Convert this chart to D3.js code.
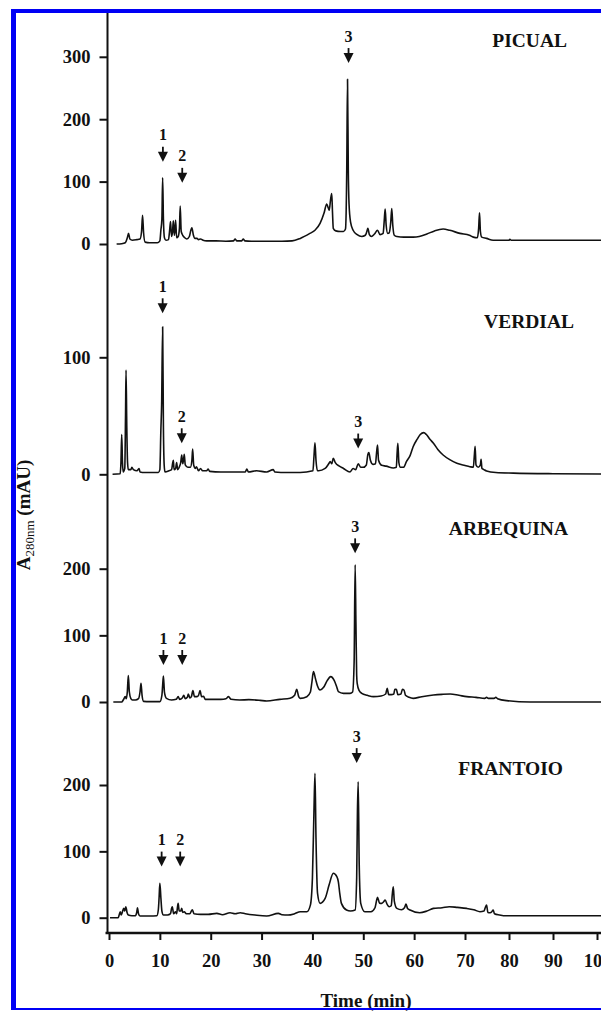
<!DOCTYPE html>
<html>
<head>
<meta charset="utf-8">
<script src="https://cdn.jsdelivr.net/npm/d3@7"></script>
<style>
  html, body { margin: 0; padding: 0; background: #fff; }
  svg { display: block; }
  text { font-family: "Liberation Serif", "Times New Roman", serif; }
</style>
</head>
<body>
<svg id="chart" width="601" height="1012"></svg>
<script>
// ---------------- DATA ----------------
const panelNames = ["PICUAL", "VERDIAL", "ARBEQUINA", "FRANTOIO"];
const xTickValues = [0, 10, 20, 30, 40, 50, 60, 70, 80, 90, 100];

const picualTicks = [0, 100, 200, 300];
const verdialTicks = [0, 100];
const arbequinaTicks = [0, 100, 200];
const frantoioTicks = [0, 100, 200];

// chromatogram traces: [time (min), absorbance (mAU)]
const picual = [[1.5,0],[2.5,0.5],[3.2,2],[3.6,10],[3.85,17],[4.1,8],[4.6,6],[5.5,7],[6.1,8],[6.4,20],[6.6,46],[6.8,18],[7.1,3],[8,2],[9.5,2],[10.0,5],[10.2,22],[10.4,40],[10.55,106],[10.7,40],[10.9,10],[11.2,6],[11.7,7],[11.9,20],[12.1,36],[12.3,12],[12.5,20],[12.65,37],[12.85,14],[13.0,25],[13.1,38],[13.3,10],[13.6,12],[13.85,25],[14.0,61],[14.2,20],[14.5,14],[14.9,10],[15.3,8],[15.8,12],[16.1,22],[16.3,26],[16.6,14],[16.9,9],[17.3,9],[17.6,7],[18.0,8],[18.5,6],[19.2,5],[21,5],[23,4.5],[24.5,5],[24.8,8],[25.1,5],[26.1,5],[26.4,8],[26.7,5],[28,4.5],[31,4.5],[34,4.5],[36,5],[37.6,9],[39.5,17],[40.5,22],[41.5,33],[42.3,50],[42.8,64],[43.1,58],[43.3,54],[43.55,70],[43.8,81],[43.95,50],[44.1,25],[44.6,21],[45.5,20],[46.1,20],[46.5,24],[46.75,120],[46.9,264],[47.05,120],[47.2,64],[47.5,35],[48.0,22],[48.8,15],[49.7,12],[50.4,14],[50.7,20],[50.9,25],[51.2,15],[51.6,12],[52.2,16],[52.8,22],[53.3,15],[53.9,17],[54.1,35],[54.3,56],[54.5,30],[54.8,17],[55.1,18],[55.4,35],[55.6,57],[55.8,30],[56.1,14],[56.6,12],[58,11],[59.8,11],[61,12],[62.5,16],[64,21],[65.7,24],[67,22],[69,17],[71,14],[71.9,11],[72.8,10],[73.1,25],[73.3,50],[73.5,20],[73.8,11],[74.9,9],[76.4,6],[80,6],[80.2,7.5],[80.5,6],[90,6],[101,6]];

const verdial = [[0.7,0],[2.2,0.5],[2.35,10],[2.5,34],[2.65,10],[2.8,2],[3.1,5],[3.25,50],[3.35,89],[3.5,40],[3.65,10],[3.8,4],[4.3,4],[4.5,6],[4.8,4],[5.5,3],[5.9,5],[6.1,2],[7,1.5],[9.7,1.5],[10.0,4],[10.2,38],[10.35,60],[10.55,126],[10.7,40],[10.85,8],[11.0,2],[11.8,3],[12.3,4],[12.5,9],[12.65,12],[12.8,4],[13.1,5],[13.3,10],[13.5,4],[13.9,7],[14.1,10],[14.3,16.5],[14.5,9],[14.65,12],[14.8,17],[15.0,8],[15.5,6],[16.0,6],[16.3,12],[16.45,21.5],[16.65,8],[17.0,5],[17.2,6.5],[17.6,3],[18.0,5],[18.4,3],[19.2,3],[19.5,4.5],[19.8,2.5],[22,2],[25,2],[26.8,2],[27.1,4.5],[27.4,2],[29,3],[31,2],[32.3,4],[32.6,2],[35,1.5],[37.6,1.5],[40.1,3],[40.3,15],[40.5,27],[40.7,12],[41.0,3],[41.2,3],[42.5,5],[43.2,9],[43.5,11],[43.8,9],[44.1,13.7],[44.5,10],[45.3,7],[46.1,5],[47.4,2],[48.0,5],[48.5,4],[49.0,9],[49.5,6],[50.0,6],[50.6,8],[50.9,17],[51.1,18.5],[51.4,12],[51.9,8.5],[52.4,9],[52.6,18],[52.8,25],[53.0,12],[53.6,7.7],[54.5,7],[55.9,5.4],[56.5,6],[56.65,18],[56.8,26.5],[57.0,10],[57.3,6],[57.9,6],[58.5,11],[59.2,16],[59.8,23.6],[60.6,30],[61.2,34],[61.9,35.6],[62.4,34],[63.1,30],[63.8,26.5],[64.7,21],[65.7,16.5],[67,12.5],[68.4,9.4],[70,7.5],[71.1,6.5],[71.9,6],[72.1,15],[72.3,24],[72.5,8],[73.0,6],[73.5,8],[73.65,12.8],[73.85,5],[74.3,4],[74.9,2.8],[77,1.5],[81,1],[90,0.5],[101,0.3]];

const arbequina = [[0.85,0],[2.5,0],[2.8,3],[3.2,8],[3.4,5],[3.6,15],[3.8,39.5],[4.0,15],[4.3,5],[4.6,3],[5.2,3],[5.8,5],[6.1,15],[6.3,28],[6.5,10],[6.8,1],[8,0.5],[10,0.5],[10.4,10],[10.55,25],[10.7,39],[10.9,15],[11.3,5.5],[12.3,3],[13.2,4],[13.6,8],[13.9,4],[14.4,6],[14.7,10],[15.0,5],[15.4,7],[15.6,12],[15.9,6],[16.2,8],[16.5,17],[16.8,8],[17.3,8],[17.6,10],[17.9,17],[18.2,8],[18.6,8.5],[18.9,4],[20,4],[22,4],[23.0,5],[23.5,8],[24,4],[25.7,3],[27.5,3.5],[29.7,2.5],[31,1.5],[33.6,4],[35.6,5.5],[36.5,10],[36.9,19],[37.3,8],[37.6,5.5],[38.9,8],[39.6,15],[39.9,30],[40.2,45.5],[40.6,35],[41.0,24],[41.5,18],[42.2,22],[42.9,32],[43.6,38],[44.3,32],[44.8,22],[45.1,15.5],[46.1,13],[47.4,13],[47.9,15],[48.2,60],[48.4,206],[48.55,120],[48.7,40],[48.8,28],[49.2,17],[49.7,13],[50.8,10],[52,8],[53.5,9],[54.4,12],[54.7,20.5],[55.0,11],[55.5,11],[56.0,12],[56.2,19],[56.5,19],[56.8,11],[57.4,12],[57.7,19],[58.0,18],[58.3,10],[59.0,7],[59.8,5.5],[61.5,8],[63.8,10.5],[65.5,11.5],[67.1,12],[68.8,10],[70.4,8],[72.5,7],[74.5,5.5],[74.9,7],[75.3,5.5],[76.6,5.5],[77.0,7],[77.4,5],[79.5,2],[84.8,0],[101,0]];

const frantoio = [[0.2,0],[1.8,0],[2.0,4],[2.2,9],[2.4,4],[2.6,8],[2.9,14],[3.1,10],[3.3,16.6],[3.55,8],[3.8,4],[4.5,3],[5.2,3],[5.45,8],[5.6,15],[5.8,6],[6.1,2.5],[8,2.5],[9.4,3],[9.7,12],[9.85,30],[10.0,52],[10.2,30],[10.4,10],[10.7,4],[11.5,4],[12.1,6],[12.3,14],[12.45,16.6],[12.7,6],[13.1,9],[13.3,6],[13.45,15],[13.6,21.6],[13.8,10],[14.1,10],[14.3,14],[14.5,8],[14.8,9],[15.2,6],[15.9,6],[16.2,10],[16.4,12],[16.7,6],[18,5],[19.5,5],[21.2,6.5],[22.3,4.5],[23.8,7.5],[24.8,6],[25.8,7.5],[26.8,6],[28.7,4],[31,2.5],[33.3,6.5],[34,4.5],[35.2,4],[36.5,6],[37.6,9],[38.9,9],[39.6,19],[40.0,60],[40.3,160],[40.5,217.6],[40.7,120],[41.0,37],[41.5,21.6],[42.5,29],[43.3,50],[44.1,67],[44.8,62],[45.1,54],[45.4,35],[45.7,21.6],[46.7,11.6],[47.5,10],[48.4,11.6],[48.7,60],[48.85,160],[49.0,205],[49.2,80],[49.5,21.6],[50.3,9],[51.5,9],[52.3,15],[52.8,30.7],[53.2,22],[53.6,21.6],[54.0,24],[54.3,26.6],[54.7,20],[55.1,16.6],[55.5,18],[55.7,35],[55.9,46.7],[56.1,25],[56.6,14],[57.5,12],[58.1,15],[58.4,20.6],[58.7,14],[59.2,11.6],[61.1,7.5],[62.5,10],[63.8,14],[65.5,15],[66.9,16.6],[68.5,15.5],[70.4,14],[72,12],[73.4,9],[74.3,10],[74.6,15],[74.9,19],[75.2,8],[75.7,7.5],[76.1,9],[76.4,11.6],[76.7,6],[77.9,4],[78.7,3],[101,3]];

// peak markers (arrows): label, retention time, arrow tip level (mAU)
const markerLabels = ["1", "2", "3"];
const picualMarkTimes = [10.6, 14.4, 47.1];
const picualMarkTips = [132, 98, 290];
const verdialMarkTimes = [10.55, 14.3, 49.0];
const verdialMarkTips = [137.6, 26.5, 22];
const arbequinaMarkTimes = [10.7, 14.4, 48.4];
const arbequinaMarkTips = [55.5, 55.5, 223];
const frantoioMarkTimes = [10.35, 14.0, 48.7];
const frantoioMarkTips = [77, 77, 233];

// ---------------- LAYOUT ----------------
const W = 601, H = 1012;
const axisX = 107.5, xAxisY = 933;
const layout = [
  { y0: 244,   yTop: 56.8,  max: 300, labelX: 567, labelY: 46.5 },
  { y0: 474.3, yTop: 357.3, max: 100, labelX: 574, labelY: 327.5 },
  { y0: 702,   yTop: 568.7, max: 200, labelX: 568, labelY: 535 },
  { y0: 917.7, yTop: 785,   max: 200, labelX: 563, labelY: 775 }
];
const panels = [
  { name: panelNames[0], data: picual,    ticks: picualTicks,    times: picualMarkTimes,    tips: picualMarkTips },
  { name: panelNames[1], data: verdial,   ticks: verdialTicks,   times: verdialMarkTimes,   tips: verdialMarkTips },
  { name: panelNames[2], data: arbequina, ticks: arbequinaTicks, times: arbequinaMarkTimes, tips: arbequinaMarkTips },
  { name: panelNames[3], data: frantoio,  ticks: frantoioTicks,  times: frantoioMarkTimes,  tips: frantoioMarkTips }
];

const svg = d3.select("#chart");
svg.append("rect").attr("width", W).attr("height", H).attr("fill", "#fff");

// x scale (the printed axis is slightly compressed beyond 70 min)
const x = d3.scaleLinear().domain([0, 70, 100]).range([109, 465, 597]);

panels.forEach((p, i) => {
  const L = layout[i];
  const y = d3.scaleLinear().domain([0, L.max]).range([L.y0, L.yTop]);

  // y axis ticks
  const ax = svg.append("g")
    .attr("transform", `translate(${axisX},0)`)
    .call(d3.axisLeft(y).tickValues(p.ticks).tickFormat(d3.format("d")).tickSize(8).tickPadding(9));
  ax.select(".domain").remove();
  ax.selectAll(".tick line").attr("stroke", "#111").attr("stroke-width", 2);
  ax.selectAll(".tick text")
    .attr("fill", "#111")
    .style("font-family", '"Liberation Serif", serif')
    .style("font-weight", "bold")
    .style("font-size", "18.5px");

  // trace
  const line = d3.line()
    .x(d => x(d[0]))
    .y(d => y(d[1]))
    .curve(d3.curveMonotoneX);
  svg.append("path")
    .datum(p.data)
    .attr("d", line)
    .attr("fill", "none")
    .attr("stroke", "#111")
    .attr("stroke-width", 1.6)
    .attr("stroke-linejoin", "round");

  // peak markers
  const mk = svg.append("g");
  markerLabels.forEach((lab, j) => {
    const mx = x(p.times[j]);
    const tip = y(p.tips[j]);
    mk.append("line")
      .attr("x1", mx).attr("x2", mx)
      .attr("y1", tip - 15).attr("y2", tip - 8)
      .attr("stroke", "#111").attr("stroke-width", 1.8);
    mk.append("path")
      .attr("d", `M${mx - 5},${tip - 10}L${mx + 5},${tip - 10}L${mx},${tip}Z`)
      .attr("fill", "#111");
    mk.append("text")
      .attr("x", mx).attr("y", tip - 21.5)
      .attr("text-anchor", "middle")
      .attr("fill", "#111")
      .style("font-weight", "bold")
      .style("font-size", "16px")
      .text(lab);
  });

  // panel name
  svg.append("text")
    .attr("x", L.labelX).attr("y", L.labelY)
    .attr("text-anchor", "end")
    .attr("fill", "#111")
    .style("font-weight", "bold")
    .style("font-size", "19.5px")
    .text(p.name);
});

// continuous y axis line
svg.append("line")
  .attr("x1", axisX).attr("x2", axisX)
  .attr("y1", 13).attr("y2", xAxisY + 1)
  .attr("stroke", "#111").attr("stroke-width", 2);

// x axis
const xa = svg.append("g")
  .attr("transform", `translate(0,${xAxisY})`)
  .call(d3.axisBottom(x).tickValues(xTickValues).tickFormat(d3.format("d")).tickSize(7).tickPadding(14));
xa.select(".domain").remove();
xa.selectAll(".tick line").attr("stroke", "#111").attr("stroke-width", 2);
xa.selectAll(".tick text")
  .attr("fill", "#111")
  .style("font-family", '"Liberation Serif", serif')
  .style("font-weight", "bold")
  .style("font-size", "18.5px");
svg.append("line")
  .attr("x1", axisX - 2).attr("x2", W)
  .attr("y1", xAxisY).attr("y2", xAxisY)
  .attr("stroke", "#111").attr("stroke-width", 2.4);

// axis titles
svg.append("text")
  .attr("x", 366).attr("y", 1007)
  .attr("text-anchor", "middle")
  .attr("fill", "#111")
  .style("font-weight", "bold")
  .style("font-size", "19px")
  .text("Time (min)");

const yt = svg.append("text")
  .attr("transform", "translate(30,515) rotate(-90)")
  .attr("text-anchor", "middle")
  .attr("fill", "#111")
  .style("font-size", "19px");
yt.append("tspan").style("font-weight", "bold").text("A");
yt.append("tspan").attr("dy", 4).style("font-size", "13px").text("280nm");
yt.append("tspan").attr("dy", -4).style("font-weight", "bold").text(" (mAU)");

// blue frame
const blue = "#0000f5";
svg.append("rect").attr("x", 11).attr("y", 9).attr("width", W - 11).attr("height", 4).attr("fill", blue);
svg.append("rect").attr("x", 11).attr("y", 9).attr("width", 5).attr("height", 1001).attr("fill", blue);
svg.append("rect").attr("x", 11).attr("y", 1008).attr("width", W - 11).attr("height", 2).attr("fill", blue);
</script>
</body>
</html>
